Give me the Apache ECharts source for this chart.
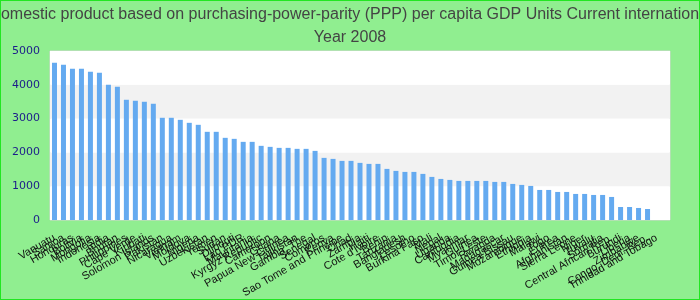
<!DOCTYPE html>
<html>
<head>
<meta charset="utf-8">
<script src="https://cdn.jsdelivr.net/npm/echarts@6/dist/echarts.min.js"></script>
<style>
html,body{margin:0;padding:0;background:#90ee90;}
#chart{width:700px;height:300px;}
</style>
</head>
<body>
<div id="chart"></div>
<script>
var titleLines = ["Gross domestic product based on purchasing-power-parity (PPP) per capita GDP Units Current international dollar", "Year 2008"];

var countries = ["Vanuatu","Samoa","Honduras","Bolivia","Mongolia","Indonesia","India","Bhutan","Philippines","Cape Verde",
"Kiribati","Solomon Islands","Pakistan","Nicaragua","Vietnam","Moldova","Nigeria","Uzbekistan","Yemen","Sudan",
"Djibouti","Lao PDR","Mauritania","Kyrgyz Republic","Cameroon","Ghana","Papua New Guinea","Tajikistan","Gambia, The","Senegal",
"Comoros","Kenya","Sao Tome and Principe","Chad","Zambia","Haiti","Cote d'Ivoire","Benin","Tanzania","Bangladesh",
"Lesotho","Burkina Faso","Mali","Nepal","Uganda","Cambodia","Myanmar","Guinea","Timor-Leste","Rwanda",
"Madagascar","Guinea-Bissau","Mozambique","Ethiopia","Malawi","Togo","Eritrea","Afghanistan","Sierra Leone","Niger",
"Tuvalu","Somalia","Central African Rep.","Burundi","Liberia","Zimbabwe","Congo, Dem. Rep.","Trinidad and Tobago",""];

var gdpValues = [4654,4595,4476,4476,4387,4358,4002,3943,3557,3528,
3498,3439,3024,3024,2964,2875,2816,2609,2609,2431,
2401,2312,2312,2194,2164,2134,2134,2105,2105,2045,
1838,1808,1749,1749,1690,1660,1660,1512,1453,1423,
1423,1364,1275,1215,1186,1156,1156,1156,1156,1127,
1127,1067,1038,1008,889,889,830,830,771,771,
741,741,682,385,385,356,326];

var yTicks = [0,1000,2000,3000,4000,5000];

var chart = echarts.init(document.getElementById('chart'), null, {renderer:'canvas'});
chart.setOption({
  backgroundColor: '#90ee90',
  animation: false,
  title: {
    text: titleLines.join('\n'),
    left: 'center',
    top: -2,
    textStyle: {fontFamily: 'Liberation Sans, Arial, sans-serif', fontSize: 16, fontWeight: 'normal', color: '#444', lineHeight: 23}
  },
  graphic: [{
    type: 'rect', silent: true, z: 100,
    shape: {x: 0, y: 0, width: 700, height: 300},
    style: {fill: 'none', stroke: '#22e622', lineWidth: 2}
  }],
  grid: {left: 50, right: 30, top: 51, bottom: 80, containLabel: false, outerBoundsMode: 'none', show: true, backgroundColor: '#ffffff', borderColor: '#d4d4d4', borderWidth: 1},
  xAxis: {
    type: 'category',
    data: countries,
    axisLine: {show: false},
    axisTick: {show: false},
    axisLabel: {interval: 0, rotate: 30, margin: 17, fontFamily: 'Liberation Sans, Arial, sans-serif', fontSize: 11, color: '#111'}
  },
  yAxis: {
    type: 'value',
    min: yTicks[0], max: yTicks[yTicks.length-1], interval: 1000,
    axisLine: {show: false},
    axisTick: {show: false},
    splitLine: {show: false},
    splitArea: {show: true, areaStyle: {color: ['#ffffff', '#f2f2f2']}},
    axisLabel: {margin: 10, fontFamily: 'DejaVu Sans, sans-serif', fontSize: 11, color: '#1c1c8a', formatter: function (v) { return String(v); }}
  },
  series: [{
    type: 'bar',
    data: gdpValues,
    barWidth: 5,
    itemStyle: {color: '#64aaf0'}
  }]
});
</script>
</body>
</html>
